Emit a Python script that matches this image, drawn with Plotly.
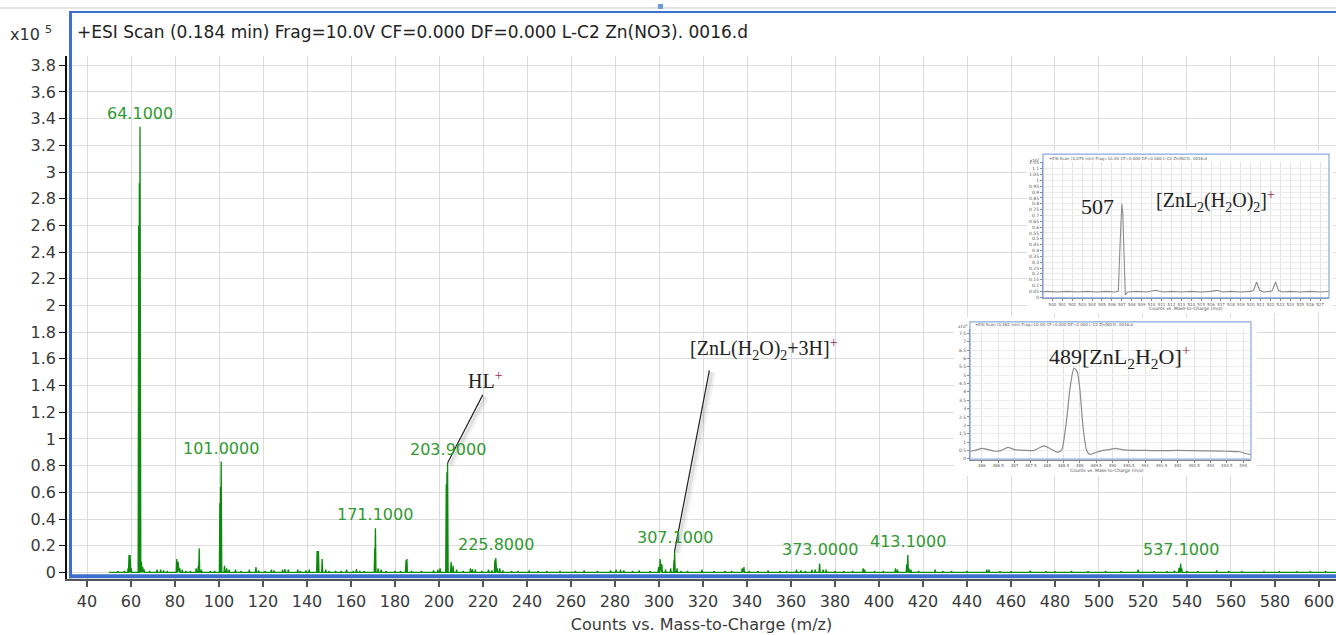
import plotly.graph_objects as go

W, H = 1336, 635

# ---------------- main ESI scan (intensity in units of 1e5 counts) ----------------
labelled_mz = [64.1, 101.0, 171.1, 203.9, 225.8, 307.1, 373.0, 413.1, 537.1]
labelled_int = [3.34, 0.83, 0.33, 0.82, 0.107, 0.16, 0.067, 0.13, 0.067]

minor_mz = [
    51.5, 54.0, 57.0, 58.7, 59.1, 59.6, 60.1, 63.5, 63.8, 64.7, 65.3, 66.0, 68.5,
    71.8, 73.5, 74.8, 76.5, 80.8, 81.4, 82.2, 83.3, 85.0, 87.0, 89.6, 90.6, 91.0,
    92.0, 96.0, 98.0, 100.4, 100.7, 102.5, 103.5, 104.6, 107.5, 110.0, 113.8,
    116.8, 118.0, 121.0, 123.8, 125.0, 128.9, 130.0, 131.5, 135.8, 137.0, 139.5,
    141.0, 144.6, 145.2, 146.9, 148.5, 150.0, 153.0, 155.5, 158.0, 161.0, 162.5,
    164.0, 166.0, 170.8, 172.3, 173.7, 176.0, 180.0, 182.5, 185.0, 185.4, 187.5,
    192.0, 197.5, 199.5, 200.5, 203.3, 203.6, 205.5, 206.4, 208.0, 211.0, 214.3,
    215.2, 216.5, 219.5, 222.5, 224.0, 225.4, 226.5, 227.6, 229.0, 233.0, 236.0,
    241.0, 245.0, 249.0, 255.0, 262.0, 266.0, 272.0, 278.0, 280.5, 282.5, 284.0,
    288.0, 291.0, 296.0, 299.8, 300.5, 301.3, 303.0, 305.3, 306.8, 308.2, 310.0,
    313.0, 319.5, 325.0, 330.0, 333.0, 337.8, 338.6, 341.0, 345.0, 349.6, 355.0,
    358.0, 362.5, 364.5, 366.5, 369.5, 371.0, 374.6, 376.0, 380.0, 384.0, 388.0,
    392.8, 393.5, 398.0, 402.0, 407.5, 408.4, 412.6, 413.6, 414.5, 418.0, 425.5,
    429.0, 433.0, 440.0, 449.0, 450.0, 455.0, 460.0, 468.7, 476.0, 480.0, 487.5,
    495.0, 503.0, 510.0, 517.8, 525.0, 531.0, 534.3, 536.4, 537.6, 540.0, 545.0,
    553.5, 559.0, 565.0, 575.0, 582.0, 590.0, 596.0, 603.0,
]
minor_int = [
    0.005, 0.008, 0.01, 0.03, 0.13, 0.13, 0.03, 2.6, 2.92, 0.08, 0.04, 0.02, 0.01,
    0.02, 0.02, 0.015, 0.01, 0.10, 0.08, 0.03, 0.02, 0.01, 0.01, 0.03, 0.05, 0.18,
    0.02, 0.01, 0.01, 0.52, 0.64, 0.05, 0.03, 0.02, 0.02, 0.01, 0.02,
    0.04, 0.015, 0.01, 0.02, 0.015, 0.02, 0.025, 0.02, 0.02, 0.01, 0.015,
    0.02, 0.16, 0.16, 0.10, 0.02, 0.01, 0.01, 0.01, 0.02, 0.01, 0.025,
    0.01, 0.01, 0.18, 0.03, 0.02, 0.01, 0.01, 0.01, 0.09, 0.10, 0.01,
    0.01, 0.015, 0.02, 0.03, 0.66, 0.75, 0.08, 0.05, 0.02, 0.01, 0.03,
    0.025, 0.02, 0.01, 0.02, 0.015, 0.09, 0.03, 0.03, 0.015, 0.01, 0.01,
    0.015, 0.01, 0.01, 0.01, 0.01, 0.015, 0.01, 0.015, 0.02, 0.02, 0.015,
    0.01, 0.015, 0.01, 0.04, 0.10, 0.06, 0.02, 0.03, 0.09, 0.03, 0.01,
    0.01, 0.02, 0.01, 0.01, 0.01, 0.03, 0.04, 0.01, 0.01, 0.015, 0.01,
    0.01, 0.02, 0.015, 0.01, 0.02, 0.02, 0.02, 0.02, 0.01, 0.01, 0.01,
    0.03, 0.02, 0.01, 0.01, 0.03, 0.02, 0.06, 0.03, 0.02, 0.01, 0.02,
    0.01, 0.01, 0.01, 0.02, 0.02, 0.008, 0.008, 0.012, 0.008, 0.008, 0.01,
    0.008, 0.01, 0.008, 0.02, 0.008, 0.008, 0.012, 0.035, 0.03, 0.01, 0.008,
    0.015, 0.01, 0.006, 0.006, 0.006, 0.006, 0.006, 0.01,
]

SCAN_START, SCAN_STOP = 50.0, 608.0

# ---------------- zoomed scans shown as insets ----------------
# m/z 500-527 window (intensity x1e7)
zoom507_mz = [498.6, 499.5, 500.5, 501.5, 502.5, 503.5, 504.5, 505.5, 506.3, 506.65,
              506.8, 506.9, 507.0, 507.1, 507.2, 507.35, 507.6, 508.5, 509.5, 510.4,
              511.2, 512.0, 513.0, 514.0, 515.0, 516.0, 516.6, 517.2, 518.0, 519.0,
              520.0, 520.3, 520.6, 520.9, 521.3, 522.0, 522.2, 522.5, 522.8, 523.2,
              524.0, 525.0, 526.0, 527.0, 528.0]
zoom507_int = [0.045, 0.05, 0.045, 0.05, 0.045, 0.05, 0.045, 0.05, 0.045, 0.05,
               0.40, 0.72, 0.80, 0.72, 0.35, 0.02, 0.045, 0.05, 0.045, 0.06,
               0.045, 0.05, 0.045, 0.05, 0.045, 0.05, 0.06, 0.045, 0.05, 0.045,
               0.05, 0.06, 0.13, 0.06, 0.045, 0.05, 0.06, 0.13, 0.06, 0.045,
               0.05, 0.045, 0.05, 0.045, 0.05]

# m/z 486-494 window (intensity x1e3)
zoom489_mz = [485.64, 485.8, 486.0, 486.2, 486.4, 486.6, 486.8, 487.0, 487.3, 487.6,
              487.9, 488.1, 488.3, 488.44, 488.6, 488.7, 488.82, 488.92, 489.0, 489.1,
              489.21, 489.31, 489.45, 489.7, 489.9, 490.1, 490.3, 490.6, 491.0, 491.5,
              492.0, 492.5, 493.0, 493.5, 493.9, 494.1, 494.24]
zoom489_int = [0.45, 0.5, 0.62, 0.55, 0.45, 0.5, 0.68, 0.55, 0.5, 0.5,
               0.77, 0.6, 0.4, 0.5, 2.4, 4.2, 5.42, 5.2, 4.2, 1.9,
               0.5, 0.26, 0.35, 0.5, 0.55, 0.62, 0.55, 0.5, 0.5, 0.48,
               0.5, 0.48, 0.47, 0.45, 0.42, 0.3, 0.25]

x_ticks_main = list(range(40, 601, 20))


def px_x(p):
    return p / W


def px_y(p):
    return 1 - p / H


def stick_profile(mz, inten, half_width=0.25):
    pairs = sorted(zip(mz, inten))
    xs, ys = [SCAN_START], [0.0]
    for m, h in pairs:
        xs += [m - half_width, m, m + half_width]
        ys += [0.0, h, 0.0]
    xs.append(SCAN_STOP)
    ys.append(0.0)
    return xs, ys


spec_x, spec_y = stick_profile(labelled_mz + minor_mz, labelled_int + minor_int)

GREEN = "#0b8a0b"
LABEL_GREEN = "#2f9a2f"
FRAME_BLUE = "#3d6fcc"
INSET_BLUE = "#8aa8e0"
GRID = "#dcdcdc"
SANS = "DejaVu Sans"
SERIF = "Liberation Serif"
PLUS = '<sup><span style="color:#a02850">+</span></sup>'

fig = go.Figure()

# main spectrum
fig.add_trace(go.Scatter(x=spec_x, y=spec_y, mode="lines",
                         line=dict(color=GREEN, width=1.3),
                         hoverinfo="skip", showlegend=False))
# subplot order: panel 1, inset 1, panel 2, inset 2
fig.add_trace(go.Scatter(x=[], y=[], xaxis="x2", yaxis="y2", showlegend=False))
fig.add_trace(go.Scatter(x=zoom507_mz, y=zoom507_int, mode="lines", xaxis="x3", yaxis="y3",
                         line=dict(color="#8c8c8c", width=1.1), hoverinfo="skip", showlegend=False))
fig.add_trace(go.Scatter(x=[], y=[], xaxis="x4", yaxis="y4", showlegend=False))
fig.add_trace(go.Scatter(x=zoom489_mz, y=zoom489_int, mode="lines", xaxis="x5", yaxis="y5",
                         line=dict(color="#8c8c8c", width=1.2, shape="spline", smoothing=0.6),
                         hoverinfo="skip", showlegend=False))

tickfont = dict(family=SANS, size=16, color="#3a3a3a")
tiny_x = dict(family=SANS, size=4, color="#555")
tiny_y = dict(family=SANS, size=4.5, color="#555")

layout = dict(
    width=W, height=H, autosize=False,
    margin=dict(l=0, r=0, t=0, b=0),
    paper_bgcolor="white", plot_bgcolor="white",
    showlegend=False,
    xaxis=dict(domain=[px_x(67), 1.0], range=[30.91, 607.73],
               tickmode="array", tickvals=x_ticks_main, tickfont=tickfont,
               ticks="outside", ticklen=6, tickcolor="#555", tickwidth=1.5,
               showline=True, linecolor="#555", linewidth=2,
               showgrid=True, gridcolor=GRID, gridwidth=1, zeroline=False,
               title=dict(text="Counts vs. Mass-to-Charge (m/z)",
                          font=dict(family=SANS, size=16, color="#3a3a3a"), standoff=9),
               anchor="y"),
    yaxis=dict(domain=[px_y(582), px_y(55)], range=[-0.052, 3.872],
               tick0=0, dtick=0.2, tickfont=tickfont,
               ticks="outside", ticklen=6, tickcolor="#111", tickwidth=1,
               showline=True, linecolor="#111", linewidth=1.5,
               showgrid=True, gridcolor=GRID, gridwidth=1, zeroline=False,
               anchor="x"),
    # white panel behind inset 1
    xaxis2=dict(domain=[px_x(1027), px_x(1333)], range=[0, 1], visible=False, anchor="y2"),
    yaxis2=dict(domain=[px_y(314), px_y(150)], range=[0, 1], visible=False, anchor="x2"),
    # inset 1
    xaxis3=dict(domain=[px_x(1043), px_x(1329)], range=[499.05, 527.9],
                tickmode="linear", tick0=500, dtick=1, tickangle=0,
                tickfont=tiny_x, ticks="outside", ticklen=2, tickcolor="#888",
                showline=True, linecolor="#888", linewidth=1,
                showgrid=True, gridcolor="#e4e4e4", gridwidth=0.6, zeroline=False, anchor="y3"),
    yaxis3=dict(domain=[px_y(298.7), px_y(162)], range=[-0.005, 1.158],
                tick0=0, dtick=0.05, tickfont=tiny_y, ticks="outside", ticklen=2, tickcolor="#888",
                showline=True, linecolor="#888", linewidth=1,
                showgrid=True, gridcolor="#ececec", gridwidth=0.6, zeroline=False, anchor="x3"),
    # white panel behind inset 2
    xaxis4=dict(domain=[px_x(954), px_x(1257)], range=[0, 1], visible=False, anchor="y4"),
    yaxis4=dict(domain=[px_y(478), px_y(318)], range=[0, 1], visible=False, anchor="x4"),
    # inset 2
    xaxis5=dict(domain=[px_x(970), px_x(1251)], range=[485.64, 494.24],
                tick0=486, dtick=0.5, tickangle=0,
                tickfont=tiny_x, ticks="outside", ticklen=2, tickcolor="#888",
                showline=True, linecolor="#888", linewidth=1,
                showgrid=True, gridcolor="#e4e4e4", gridwidth=0.6, zeroline=False, anchor="y5"),
    yaxis5=dict(domain=[px_y(461.5), px_y(330)], range=[-0.05, 7.76],
                tick0=0, dtick=0.5, tickfont=tiny_y, ticks="outside", ticklen=2, tickcolor="#888",
                showline=True, linecolor="#888", linewidth=1,
                showgrid=True, gridcolor="#ececec", gridwidth=0.6, zeroline=False, anchor="x5"),
)
fig.update_layout(**layout)

shapes = []
# white panels (drawn inside their own subplot, above the main grid)
for ax in ("2", "4"):
    shapes.append(dict(type="rect", xref="x" + ax, yref="y" + ax, x0=0, x1=1, y0=0, y1=1,
                       fillcolor="white", line=dict(width=0), layer="below"))

# window frame
shapes += [
    dict(type="line", xref="paper", yref="paper", x0=0, x1=1, y0=px_y(7), y1=px_y(7),
         line=dict(color="#c8c8c8", width=1), layer="above"),
    dict(type="rect", xref="paper", yref="paper", x0=px_x(658), x1=px_x(663), y0=px_y(8), y1=px_y(3),
         fillcolor="#6f9ad8", line=dict(width=0), layer="above"),
    dict(type="line", xref="paper", yref="paper", x0=px_x(70.5), x1=px_x(70.5), y0=px_y(581), y1=px_y(10),
         line=dict(color=FRAME_BLUE, width=3), layer="above"),
    dict(type="line", xref="paper", yref="paper", x0=px_x(69), x1=1, y0=px_y(11), y1=px_y(11),
         line=dict(color=FRAME_BLUE, width=2), layer="above"),
    dict(type="line", xref="paper", yref="paper", x0=px_x(69), x1=1, y0=px_y(579), y1=px_y(579),
         line=dict(color=FRAME_BLUE, width=4), layer="above"),
]
# inset frames
shapes += [
    dict(type="rect", xref="paper", yref="paper", x0=px_x(1043), x1=px_x(1329),
         y0=px_y(298.7), y1=px_y(154), line=dict(color=INSET_BLUE, width=1.2), layer="above"),
    dict(type="rect", xref="paper", yref="paper", x0=px_x(970), x1=px_x(1251),
         y0=px_y(461), y1=px_y(323), line=dict(color=INSET_BLUE, width=1.2), layer="above"),
]

# leader lines from peaks to ion assignments
leaders = [
    (203.9, 0.82, 219.9, 1.33),
    (307.1, 0.16, 322.9, 1.514),
]
for x0, y0, x1, y1 in leaders:
    for off, alpha, width in ((1.6, 0.05, 6), (1.1, 0.08, 3)):
        shapes.append(dict(type="line", xref="x", yref="y", x0=x0 + off, y0=y0 - 0.015,
                           x1=x1 + off, y1=y1 - 0.015,
                           line=dict(color=f"rgba(0,0,0,{alpha})", width=width), layer="above"))
    shapes.append(dict(type="line", xref="x", yref="y", x0=x0, y0=y0, x1=x1, y1=y1,
                       line=dict(color="#222", width=1.2), layer="above"))

fig.update_layout(shapes=shapes)


def note(x, y, text, font, xanchor="left", **kw):
    return dict(xref="paper", yref="paper", x=px_x(x), y=px_y(y), xanchor=xanchor,
                yanchor="middle", text=text, showarrow=False, font=font, **kw)


small = dict(family=SANS, size=4, color="#555")
small_title = dict(family=SANS, size=4.5, color="#555")

ann = []
# header
ann.append(note(8, 33, "x10 <sup>5</sup>", dict(family=SANS, size=16, color="#333")))
ann.append(note(75, 31, "+ESI Scan (0.184 min) Frag=10.0V CF=0.000 DF=0.000 L-C2 Zn(NO3). 0016.d",
                dict(family=SANS, size=17, color="#222")))
# peak labels
for m, h in zip(labelled_mz, labelled_int):
    ann.append(dict(xref="x", yref="y", x=m, y=h, xanchor="center", yanchor="bottom", yshift=2,
                    text=f"{m:.4f}", showarrow=False,
                    font=dict(family=SANS, size=16, color=LABEL_GREEN)))
# ion assignments
ann.append(dict(xref="x", yref="y", x=221.0, y=1.44, xanchor="center", yanchor="middle",
                text="HL" + PLUS, showarrow=False,
                font=dict(family=SERIF, size=20, color="#222")))
ann.append(dict(xref="x", yref="y", x=347.7, y=1.675, xanchor="center", yanchor="middle",
                text="[ZnL(H<sub>2</sub>O)<sub>2</sub>+3H]" + PLUS, showarrow=False,
                font=dict(family=SERIF, size=20, color="#222")))
# inset 1 texts
ann.append(note(1028, 160, "x10<sup>7</sup>", small))
ann.append(note(1047, 158, "+ESI Scan (0.079 min) Frag=10.0V CF=0.000 DF=0.000 L-C2 Zn(NO3). 0016.d", small))
ann.append(note(1186, 309.5, "Counts vs. Mass-to-Charge (m/z)", small_title, xanchor="center"))
ann.append(dict(xref="x3", yref="y3", x=507.0, y=0.80, xanchor="right", yanchor="middle",
                xshift=-6, yshift=-3, text="507", showarrow=False,
                font=dict(family=SERIF, size=22, color="#222")))
ann.append(dict(xref="x3", yref="y3", x=510.2, y=0.82, xanchor="left", yanchor="middle",
                text="[ZnL<sub>2</sub>(H<sub>2</sub>O)<sub>2</sub>]" + PLUS, showarrow=False,
                font=dict(family=SERIF, size=20, color="#222")))
# inset 2 texts
ann.append(note(956, 327, "x10<sup>3</sup>", small))
ann.append(note(973, 325.5, "+ESI Scan (0.262 min) Frag=10.0V CF=0.000 DF=0.000 L-C2 Zn(NO3). 0016.d", small))
ann.append(note(1107, 472.5, "Counts vs. Mass-to-Charge (m/z)", small_title, xanchor="center"))
ann.append(dict(xref="x5", yref="y5", x=487.99, y=6.1, xanchor="left", yanchor="middle",
                text="489[ZnL<sub>2</sub>H<sub>2</sub>O]" + PLUS, showarrow=False,
                font=dict(family=SERIF, size=22, color="#222")))

fig.update_layout(annotations=ann)

fig.write_html("out.html")
